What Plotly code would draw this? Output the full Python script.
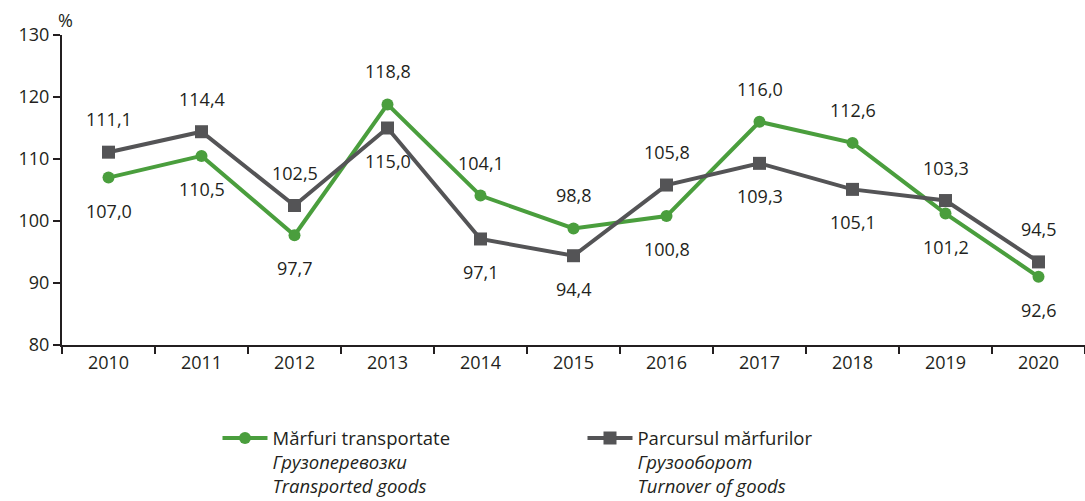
import plotly.graph_objects as go

years = ["2010", "2011", "2012", "2013", "2014", "2015", "2016", "2017", "2018", "2019", "2020"]
transported = [107.0, 110.5, 97.7, 118.8, 104.1, 98.8, 100.8, 116.0, 112.6, 101.2, 91.0]
turnover = [111.1, 114.4, 102.5, 115.0, 97.1, 94.4, 105.8, 109.3, 105.1, 103.3, 93.4]
transported_labels = ["107,0", "110,5", "97,7", "118,8", "104,1", "98,8", "100,8", "116,0", "112,6", "101,2", "92,6"]
turnover_labels = ["111,1", "114,4", "102,5", "115,0", "97,1", "94,4", "105,8", "109,3", "105,1", "103,3", "94,5"]
transported_side = [-1, -1, -1, 1, 1, 1, -1, 1, 1, -1, -1]
turnover_side = [1, 1, 1, -1, -1, -1, 1, -1, -1, 1, 1]

GREEN = "#4a9e3d"
GRAY = "#545456"
TXT = "#231f20"
FONT = "Open Sans"
FS = 18

fig = go.Figure()
fig.add_trace(go.Scatter(
    x=years, y=transported, mode="lines+markers",
    name="Mărfuri transportate<br><i>Грузоперевозки</i><br><i>Transported goods</i>",
    line=dict(color=GREEN, width=4),
    marker=dict(symbol="circle", size=12, color=GREEN),
))
fig.add_trace(go.Scatter(
    x=years, y=turnover, mode="lines+markers",
    name="Parcursul mărfurilor<br><i>Грузооборот</i><br><i>Turnover of goods</i>",
    line=dict(color=GRAY, width=4),
    marker=dict(symbol="square", size=13, color=GRAY),
))

for ys, labs, sides in [(transported, transported_labels, transported_side),
                        (turnover, turnover_labels, turnover_side)]:
    for i, (y, t, s) in enumerate(zip(ys, labs, sides)):
        fig.add_annotation(x=i, y=y, xref="x", yref="y", text=t, showarrow=False,
                           yshift=33 * s, font=dict(family=FONT, size=FS, color=TXT))

fig.add_annotation(xref="paper", yref="paper", x=0, y=1, xanchor="center", yanchor="bottom",
                   xshift=3, yshift=1, text="%", showarrow=False,
                   font=dict(family=FONT, size=FS, color=TXT))

fig.update_layout(
    width=1085, height=501,
    margin=dict(l=62, r=0, t=35, b=156, autoexpand=False),
    paper_bgcolor="white", plot_bgcolor="white",
    font=dict(family=FONT, size=FS, color=TXT),
    showlegend=True,
    legend=dict(orientation="h", x=0.152, y=-0.24, xanchor="left", yanchor="top",
                entrywidth=305, entrywidthmode="pixels", valign="top",
                font=dict(family=FONT, size=18.5, color=TXT), itemwidth=45,
                traceorder="normal", tracegroupgap=0),
)
fig.update_xaxes(type="category", showline=True, linecolor=TXT, linewidth=2,
                 ticks="outside", tickson="boundaries", ticklen=7, tickwidth=2, tickcolor=TXT,
                 showgrid=False, range=[-0.5, 10.5], tickfont=dict(size=FS))
fig.update_yaxes(range=[80, 130], dtick=10, showline=True, linecolor=TXT, linewidth=2,
                 ticks="outside", ticklen=7, tickwidth=2, tickcolor=TXT,
                 showgrid=False, zeroline=False, tickfont=dict(size=FS))

fig.write_html("out.html", config={"displayModeBar": False},
               post_script="document.body.style.margin='0';")
